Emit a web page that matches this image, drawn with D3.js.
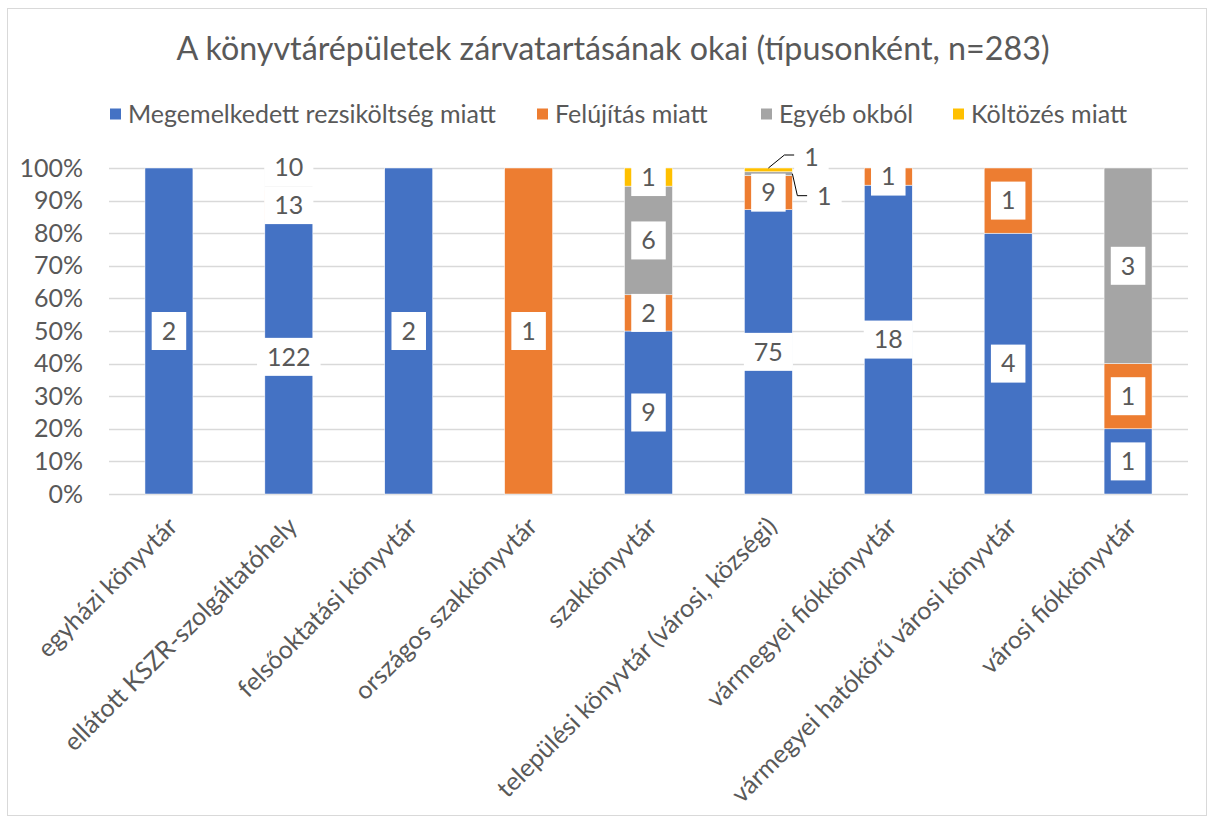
<!DOCTYPE html>
<html>
<head>
<meta charset="utf-8">
<script src="https://cdn.jsdelivr.net/npm/d3@7"></script>
<style>
  body { margin: 0; background: #fff; }
  svg text { font-family: Lato, "Noto Sans", sans-serif; fill: #595959; }
</style>
</head>
<body>
<svg id="chart" width="1213" height="823"></svg>
<script>
// categories and series values (counts per library type)
var categories = ["egyházi könyvtár", "ellátott KSZR-szolgáltatóhely", "felsőoktatási könyvtár",
  "országos szakkönyvtár", "szakkönyvtár", "települési könyvtár (városi, községi)",
  "vármegyei fiókkönyvtár", "vármegyei hatókörű városi könyvtár", "városi fiókkönyvtár"];
var seriesNames = ["Megemelkedett rezsiköltség miatt", "Felújítás miatt", "Egyéb okból", "Költözés miatt"];
var rezsi     = [2, 122, 2, 0, 9, 75, 18, 4, 1];
var felujitas = [0, 13, 0, 1, 2, 9, 1, 1, 1];
var egyeb     = [0, 10, 0, 0, 6, 1, 0, 0, 3];
var koltozes  = [0, 0, 0, 0, 1, 1, 0, 0, 0];
var yTicks = [0, 0.1, 0.2, 0.3, 0.4, 0.5, 0.6, 0.7, 0.8, 0.9, 1];
var title = "A könyvtárépületek zárvatartásának okai (típusonként, n=283)";
var colors = ["#4472C4", "#ED7D31", "#A5A5A5", "#FFC000"];

var svg = d3.select("#chart");

// fit font so a Calibri-sized legend string gets its reference width
var probe = svg.append("text").style("font-size", "20px").text(seriesNames[0]);
var k = 368 / probe.node().getComputedTextLength();
probe.remove();
var fs = function (n) { return (n * k).toFixed(2) + "px"; };

var table = categories.map(function (c, i) {
  return { cat: c, s0: rezsi[i], s1: felujitas[i], s2: egyeb[i], s3: koltozes[i] };
});
var keys = ["s0", "s1", "s2", "s3"];
var stacked = d3.stack().keys(keys).offset(d3.stackOffsetExpand)(table);

var plotL = 109, plotR = 1188, plotT = 168, plotB = 494;
var x = d3.scaleBand().domain(categories).range([plotL, plotR]).paddingInner(0.6).paddingOuter(0.3);
var y = d3.scaleLinear().domain([0, 1]).range([plotB, plotT]);

// chart border
svg.append("rect").attr("x", 7.5).attr("y", 8.5).attr("width", 1199).attr("height", 807)
  .attr("fill", "none").attr("stroke", "#D9D9D9");

// title
svg.append("text").attr("x", 613).attr("y", 60).attr("text-anchor", "middle")
  .style("font-size", fs(25.8)).text(title);

// legend
var legendX = [110, 537, 761, 953];
var leg = svg.append("g").selectAll("g").data(seriesNames).enter().append("g")
  .attr("transform", function (d, i) { return "translate(" + legendX[i] + ",114)"; });
leg.append("rect").attr("x", 0).attr("y", -5.5).attr("width", 11).attr("height", 11)
  .attr("fill", function (d, i) { return colors[i]; });
leg.append("text").attr("x", 18).attr("dy", "0.35em").style("font-size", fs(20)).text(function (d) { return d; });

// gridlines
svg.append("g").selectAll("line").data(yTicks).enter().append("line")
  .attr("x1", plotL).attr("x2", plotR)
  .attr("y1", function (d) { return Math.round(y(d)) + 0.5; })
  .attr("y2", function (d) { return Math.round(y(d)) + 0.5; })
  .attr("stroke", "#D9D9D9").attr("stroke-width", 1.3);

// y axis labels
var yAxis = svg.append("g").attr("transform", "translate(" + (plotL + 4) + ",0)")
  .call(d3.axisLeft(y).tickValues(yTicks).tickFormat(d3.format(".0%")).tickSize(0).tickPadding(30));
yAxis.select(".domain").remove();
yAxis.selectAll("text").style("font-size", fs(20)).attr("fill", "#595959")
  .style("font-family", "Lato, 'Noto Sans', sans-serif");

// bars
var layers = svg.append("g").selectAll("g").data(stacked).enter().append("g")
  .attr("fill", function (d, i) { return colors[i]; });
layers.selectAll("rect").data(function (d) { return d; }).enter().append("rect")
  .attr("x", function (d) { return x(d.data.cat); })
  .attr("width", x.bandwidth())
  .attr("y", function (d) { return y(d[1]); })
  .attr("height", function (d) { return y(d[0]) - y(d[1]); })
  .attr("stroke", "#fff").attr("stroke-width", 0.5);

// x axis labels
svg.append("g").selectAll("text").data(categories).enter().append("text")
  .attr("transform", function (d) { return "translate(" + (x(d) + x.bandwidth() / 2 + 10) + ",528) rotate(-45)"; })
  .attr("text-anchor", "end").style("font-size", fs(20)).text(function (d) { return d; });

// data labels
var labelLayer = svg.append("g");
var boxH = 38;
categories.forEach(function (cat, ci) {
  var cx = x(cat) + x.bandwidth() / 2;
  var prevTop = null;
  var segs = [];
  stacked.forEach(function (layer, li) {
    var d = layer[ci], v = d.data[keys[li]];
    if (v > 0) segs.push({ v: v, y0: y(d[0]), y1: y(d[1]) });
  });
  // small segments go outside with a leader line, topmost first
  var small = segs.filter(function (s) { return s.y0 - s.y1 < 8; }).reverse();
  segs.forEach(function (s) {
    if (s.y0 - s.y1 < 8) return;
    var cy = (s.y0 + s.y1) / 2;
    if (prevTop !== null && cy + boxH / 2 > prevTop) cy = prevTop - boxH / 2;
    prevTop = cy - boxH / 2;
    drawLabel(cx, cy, s.v);
  });
  small.forEach(function (s, j) {
    var bx = x(cat) + x.bandwidth(), sy = (s.y0 + s.y1) / 2;
    if (j === 0) {
      var lx = cx + 16, ly = s.y1 - 13;
      labelLayer.append("polyline").attr("points", [[cx, s.y1], [lx, ly], [lx + 12, ly]].join(" "))
        .attr("fill", "none").attr("stroke", "#000").attr("stroke-width", 1);
      drawLabel(lx + 27, ly + 2, s.v);
    } else {
      var lx2 = bx + 5, ly2 = sy + 22;
      labelLayer.append("polyline").attr("points", [[bx, sy], [lx2, ly2], [lx2 + 12, ly2]].join(" "))
        .attr("fill", "none").attr("stroke", "#000").attr("stroke-width", 1);
      drawLabel(lx2 + 27, ly2 + 1, s.v);
    }
  });
});

function drawLabel(cx, cy, v) {
  var g = labelLayer.append("g");
  var r = g.append("rect").attr("fill", "#fff");
  var t = g.append("text").attr("x", cx).attr("y", cy).attr("dy", "0.35em")
    .attr("text-anchor", "middle").style("font-size", fs(20)).text(v);
  var w = t.node().getComputedTextLength() + 20;
  r.attr("x", cx - w / 2).attr("y", cy - boxH / 2).attr("width", w).attr("height", boxH);
}
</script>
</body>
</html>
